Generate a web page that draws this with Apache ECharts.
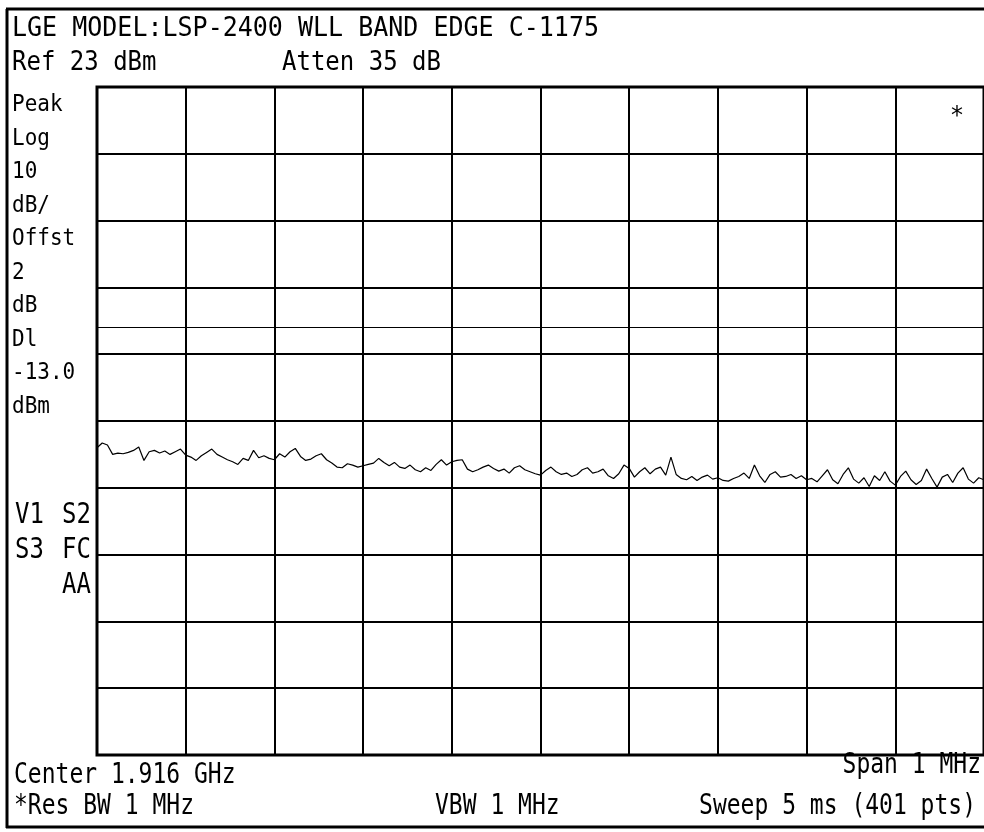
<!DOCTYPE html>
<html>
<head>
<meta charset="utf-8">
<script src="https://cdn.jsdelivr.net/npm/echarts@6/dist/echarts.min.js"></script>
<style>
  html, body { margin: 0; padding: 0; background: #fff; }
  #chart { width: 984px; height: 832px; }
</style>
</head>
<body>
<div id="chart"></div>
<script>
// analyzer settings
const refLevel = 23
const dbPerDiv = 10
const displayLine = -13.0
const spanKHz = 1000

// trace (dBm), left to right across the span
const traceDbm = [
  -31.0, -30.3, -30.6, -32.0, -31.8, -31.9, -31.7, -31.4, -30.9, -32.9, -31.6, -31.4, -31.8, -31.5, -32.0, -31.6, -31.2, -32.1,
  -32.4, -32.9, -32.2, -31.7, -31.2, -32.0, -32.4, -32.8, -33.1, -33.5, -32.6, -32.9, -31.4, -32.5, -32.2, -32.6, -32.8, -31.9,
  -32.4, -31.6, -31.1, -32.3, -32.9, -32.7, -32.2, -31.9, -32.8, -33.3, -33.9, -34.0, -33.4, -33.6, -33.9, -33.7, -33.5,
  -33.3, -32.6, -33.2, -33.7, -33.2, -33.9, -34.1, -33.6, -34.3, -34.6, -34.0, -34.4, -33.5, -32.8, -33.6, -33.1, -32.9,
  -32.8, -34.2, -34.6, -34.3, -33.9, -33.6, -34.1, -34.5, -34.2, -34.8, -34.0, -33.7, -34.3, -34.6, -34.9, -35.1, -34.4,
  -33.9, -34.6, -35.0, -34.8, -35.3, -35.0, -34.3, -34.0, -34.8, -34.6, -34.2, -35.2, -35.6, -34.9, -33.6, -34.1,
  -35.4, -34.6, -34.0, -34.9, -34.2, -33.9, -35.1, -32.4, -35.0, -35.6, -35.8, -35.3, -35.9, -35.4, -35.1, -35.7, -35.5,
  -35.9, -36.0, -35.6, -35.3, -34.8, -35.6, -33.6, -35.2, -36.2, -35.0, -34.6, -35.4, -35.3, -35.0, -35.6, -35.2, -35.8,
  -35.6, -36.1, -35.2, -34.3, -35.8, -36.4, -35.0, -34.0, -35.7, -36.3, -35.5, -36.8, -35.2, -35.9, -34.6, -36.0, -36.6,
  -35.3, -34.5, -35.8, -36.5, -35.9, -34.2, -35.6, -36.9, -35.4, -35.0, -36.2, -34.8, -34.0, -35.7, -36.3, -35.5, -35.8
]

// annotation text on the screen
const titleText = 'LGE MODEL:LSP-2400 WLL BAND EDGE C-1175'
const refText = 'Ref 23 dBm'
const attenText = 'Atten 35 dB'
const leftLabels = ['Peak', 'Log', '10', 'dB/', 'Offst', '2', 'dB', 'Dl', '-13.0', 'dBm']
const statusRows = [['V1', 'S2'], ['S3', 'FC'], ['', 'AA']]
const centerText = 'Center 1.916 GHz'
const spanText = 'Span 1 MHz'
const resBwText = '*Res BW 1 MHz'
const vbwText = 'VBW 1 MHz'
const sweepText = 'Sweep 5 ms (401 pts)'

const mono = '"DejaVu Sans Mono", "Liberation Mono", monospace'

const chart = echarts.init(document.getElementById('chart'))

const step = spanKHz / (traceDbm.length - 1)
const traceData = traceDbm.map((v, i) => [-spanKHz / 2 + i * step, v])

// screen text, scaled a bit taller like the analyzer font
function txt(text, x, y, size, align, sy) {
  return {
    type: 'text',
    x: x,
    y: y,
    scaleY: sy || 1,
    style: {
      text: text,
      x: 0,
      y: 0,
      font: size + 'px ' + mono,
      fill: '#000',
      align: align || 'left',
      verticalAlign: 'middle'
    }
  }
}

const graphics = [
  { type: 'line', shape: { x1: 6, y1: 9, x2: 984, y2: 9 }, style: { stroke: '#000', lineWidth: 3 } },
  { type: 'line', shape: { x1: 7, y1: 9, x2: 7, y2: 828 }, style: { stroke: '#000', lineWidth: 3 } },
  { type: 'line', shape: { x1: 6, y1: 827, x2: 984, y2: 827 }, style: { stroke: '#000', lineWidth: 3 } },
  txt(titleText, 12, 29, 25, 'left', 1.08),
  txt(refText, 12, 63, 24, 'left', 1.08),
  txt(attenText, 282, 63, 24, 'left', 1.08),
  txt('*', 957, 117, 24, 'center'),
  txt(centerText, 14, 776, 23, 'left', 1.2),
  txt(spanText, 981, 766, 23, 'right', 1.2),
  txt(resBwText, 14, 807, 23, 'left', 1.2),
  txt(vbwText, 435, 807, 23, 'left', 1.2),
  txt(sweepText, 976, 807, 23, 'right', 1.2)
]
leftLabels.forEach((t, i) => {
  graphics.push(txt(t, 12, 105 + i * 33.5, 21, 'left', 1.12))
})
statusRows.forEach((r, i) => {
  if (r[0]) graphics.push(txt(r[0], 15, 516 + i * 35, 24, 'left', 1.2))
  graphics.push(txt(r[1], 91, 516 + i * 35, 24, 'right', 1.2))
})

const option = {
  backgroundColor: '#fff',
  animation: false,
  grid: {
    left: 97,
    top: 87,
    width: 887,
    height: 668,
    show: true,
    borderColor: '#000',
    borderWidth: 3
  },
  xAxis: {
    type: 'value',
    min: -spanKHz / 2,
    max: spanKHz / 2,
    interval: spanKHz / 10,
    axisLine: { show: false },
    axisTick: { show: false },
    axisLabel: { show: false },
    splitLine: { show: true, lineStyle: { color: '#000', width: 2 } }
  },
  yAxis: {
    type: 'value',
    min: refLevel - 10 * dbPerDiv,
    max: refLevel,
    interval: dbPerDiv,
    axisLine: { show: false },
    axisTick: { show: false },
    axisLabel: { show: false },
    splitLine: { show: true, lineStyle: { color: '#000', width: 2 } }
  },
  series: [
    {
      type: 'line',
      data: traceData,
      symbol: 'none',
      lineStyle: { color: '#000', width: 1.2 },
      markLine: {
        silent: true,
        symbol: 'none',
        label: { show: false },
        lineStyle: { color: '#000', width: 1, type: 'solid' },
        data: [{ yAxis: displayLine }]
      }
    }
  ],
  graphic: graphics
}

chart.setOption(option)
</script>
</body>
</html>
